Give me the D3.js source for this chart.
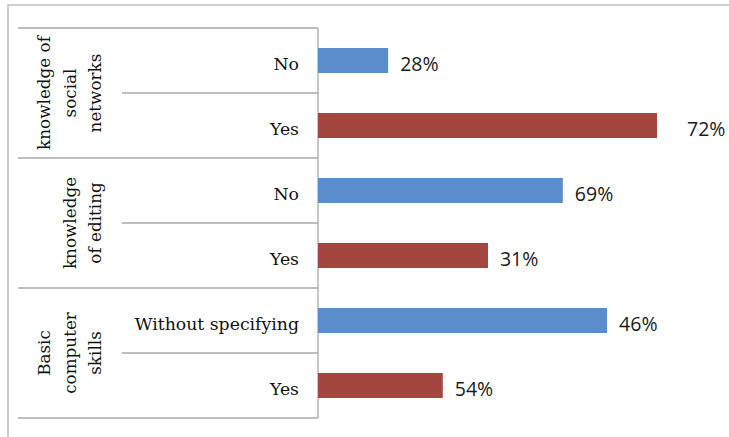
<!DOCTYPE html>
<html>
<head>
<meta charset="utf-8">
<script src="https://cdn.jsdelivr.net/npm/d3@7"></script>
<style>
  html, body { margin: 0; padding: 0; background: #fff; }
  svg { display: block; }
</style>
</head>
<body>
<div id="chart"></div>
<script>
// ── Skills chart — grouped horizontal bars with a table-style axis ──

// Groups, top to bottom, each line of the rotated label is one entry
const groups = [
    ['knowledge of', 'social', 'networks'],
    ['knowledge', 'of editing'],
    ['Basic', 'computer', 'skills']
];
const rowLabels = ['No', 'Yes', 'No', 'Yes', 'Without specifying', 'Yes'];
// Printed data labels
const valueLabels = ['28%', '72%', '69%', '31%', '46%', '54%'];
// Bar lengths as drawn in the picture (same unit as the 72% bar)
const barLengths = [14.9, 72, 52, 36.1, 61.4, 26.5];
const series = ['a', 'b', 'a', 'b', 'a', 'b'];

const width = 729;
const height = 437;

const svg = d3.select('#chart')
    .append('svg')
    .attr('width', width)
    .attr('height', height);

const axisX = 318;
const tableLeft = 18;
const subLeft = 122;

const y = d3.scaleBand()
    .domain(d3.range(rowLabels.length))
    .range([28, 418]);

const x = d3.scaleLinear()
    .domain([0, 72])
    .range([axisX, 657]);

const color = d3.scaleOrdinal()
    .domain(['a', 'b'])
    .range(['#5b8dcc', '#a2463f']);

// Outer frame (cropped at right and bottom)
svg.append('path')
    .attr('d', `M8,${height + 2}V5H${width + 2}`)
    .attr('fill', 'none')
    .attr('stroke', '#bdbdbd')
    .attr('stroke-width', 1.5);

const grid = svg.append('g')
    .attr('stroke', '#a9a9a9')
    .attr('stroke-width', 1.3);

// Row ranges of each group
const perGroup = rowLabels.length / groups.length;
const bounds = groups.map((g, i) => ({ start: i * perGroup, n: perGroup }));

// Group boundaries, full width of the label table
grid.selectAll('line.group')
    .data(d3.range(groups.length + 1))
    .join('line')
    .attr('class', 'group')
    .attr('x1', tableLeft)
    .attr('x2', axisX)
    .attr('y1', d => d === groups.length ? y.range()[1] : y(bounds[d].start))
    .attr('y2', d => d === groups.length ? y.range()[1] : y(bounds[d].start));

// Separators between rows inside a group
const innerRows = d3.range(rowLabels.length).filter(i => !bounds.some(b => b.start === i));
grid.selectAll('line.sub')
    .data(innerRows)
    .join('line')
    .attr('class', 'sub')
    .attr('x1', subLeft)
    .attr('x2', axisX)
    .attr('y1', d => y(d))
    .attr('y2', d => y(d));

// Category axis line
grid.append('line')
    .attr('x1', axisX)
    .attr('x2', axisX)
    .attr('y1', y.range()[0])
    .attr('y2', y.range()[1]);

// Bars
const barH = 25;
svg.append('g')
    .selectAll('rect')
    .data(barLengths)
    .join('rect')
    .attr('x', x(0))
    .attr('y', (d, i) => y(i) + (y.bandwidth() - barH) / 2)
    .attr('width', d => x(d) - x(0))
    .attr('height', barH)
    .attr('fill', (d, i) => color(series[i]));

// Value labels (the 72% one sits further out)
svg.append('g')
    .selectAll('text')
    .data(barLengths)
    .join('text')
    .attr('x', (d, i) => x(d) + (i === 1 ? 30 : 12))
    .attr('y', (d, i) => y(i) + y.bandwidth() / 2 + 10)
    .attr('font-family', "'Open Sans', sans-serif")
    .attr('font-size', '19.5px')
    .attr('fill', '#1a1a1a')
    .text((d, i) => valueLabels[i]);

// Row labels
svg.append('g')
    .selectAll('text')
    .data(rowLabels)
    .join('text')
    .attr('x', 299)
    .attr('y', (d, i) => y(i) + y.bandwidth() / 2 + 9)
    .attr('text-anchor', 'end')
    .attr('font-family', "'DejaVu Serif', serif")
    .attr('font-size', '17.3px')
    .attr('fill', '#111')
    .text(d => d);

// Rotated group labels
const lineGap = 25.5;
const groupLabel = svg.append('g')
    .selectAll('g')
    .data(groups)
    .join('g')
    .attr('transform', (d, i) => {
        const b = bounds[i];
        const cy = (y(b.start) + y(b.start + b.n - 1) + y.bandwidth()) / 2;
        return `translate(0,${cy})`;
    });

groupLabel.selectAll('text')
    .data(d => d.map((t, j) => ({ t, j, n: d.length })))
    .join('text')
    .attr('transform', d => `translate(${101 - (d.n - 1 - d.j) * lineGap},0) rotate(-90)`)
    .attr('text-anchor', 'middle')
    .attr('font-family', "'DejaVu Serif', serif")
    .attr('font-size', '16.8px')
    .attr('fill', '#111')
    .text(d => d.t);
</script>
</body>
</html>
